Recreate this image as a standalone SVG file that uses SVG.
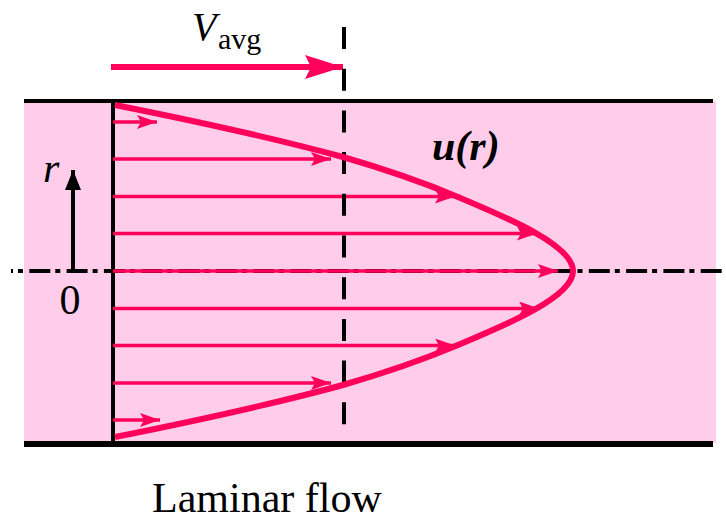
<svg xmlns="http://www.w3.org/2000/svg" width="726" height="520" viewBox="0 0 726 520">
<style>
.wall{stroke:#000;fill:none}
.vel{stroke:#FF005A;stroke-width:3.5;fill:none}
.prof{stroke:#FF005A;stroke-width:6;fill:none;stroke-linejoin:round}
.t{font-family:"Liberation Serif","DejaVu Serif",serif;fill:#000}
.it{font-style:italic}
</style>
<defs>
<marker id="ah" markerUnits="userSpaceOnUse" markerWidth="22" markerHeight="16" refX="20" refY="7" orient="auto">
<path d="M0,0 L20,7 L0,14 L4,7 z" fill="#FF005A"/>
</marker>
<marker id="ahBig" markerUnits="userSpaceOnUse" markerWidth="40" markerHeight="26" refX="38" refY="12" orient="auto">
<path d="M0,0 L38,12 L0,24 L6,12 z" fill="#FF005A"/>
</marker>
<marker id="ahK" markerUnits="userSpaceOnUse" markerWidth="18" markerHeight="22" refX="20" refY="8" orient="auto">
<path d="M0,0 L20,8 L0,16 z" fill="#000"/>
</marker>
</defs>
<rect id="background" x="0" y="0" width="726" height="520" fill="#fff"/>
<g id="pipe">
<rect x="24" y="101" width="692" height="342" fill="#FFCDEA"/>
<line class="wall" x1="24" y1="101" x2="713" y2="101" stroke-width="4"/>
<line class="wall" x1="24" y1="444" x2="713" y2="444" stroke-width="6" stroke="#1f0a14"/>
<line class="wall" x1="113" y1="100" x2="113" y2="442" stroke-width="4"/>
</g>
<g id="centerline">
<line x1="11" y1="271" x2="726" y2="271" stroke="#000" stroke-width="4" stroke-dasharray="21 5 5 6.3" stroke-dashoffset="19"/>
</g>
<g id="connectors">
<line class="vel" x1="113" y1="122" x2="157" y2="122" marker-end="url(#ah)"/>
<line class="vel" x1="113" y1="159" x2="331" y2="159" marker-end="url(#ah)"/>
<line class="vel" x1="113" y1="196.5" x2="455" y2="196.5" marker-end="url(#ah)"/>
<line class="vel" x1="113" y1="233.5" x2="537" y2="233.5" marker-end="url(#ah)"/>
<line class="vel" x1="113" y1="271" x2="558" y2="271" marker-end="url(#ah)"/>
<line class="vel" x1="113" y1="308.5" x2="539" y2="308.5" marker-end="url(#ah)"/>
<line class="vel" x1="113" y1="345.5" x2="455" y2="345.5" marker-end="url(#ah)"/>
<line class="vel" x1="113" y1="383" x2="331" y2="383" marker-end="url(#ah)"/>
<line class="vel" x1="113" y1="420" x2="160" y2="420" marker-end="url(#ah)"/>
<line x1="111" y1="67" x2="343" y2="67" stroke="#FF005A" stroke-width="6" marker-end="url(#ahBig)"/>
<line x1="73" y1="271" x2="73" y2="170" stroke="#000" stroke-width="4" marker-end="url(#ahK)"/>
</g>
<g id="avg-line">
<line x1="344" y1="27" x2="344" y2="426" stroke="#000" stroke-width="4" stroke-dasharray="22 19.7"/>
</g>
<g id="profile">
<path class="prof" d="M115,105 C190,120 270,137 343,157 C381,168 420,181 458,197 C508,218 573,245 573,271 C573,297 508,324 458,345 C420,361 381,374 343,385 C270,405 190,422 115,437"/>
</g>
<g id="labels">
<text class="t it" x="192" y="40" font-size="40">V</text>
<text class="t" x="218" y="49" font-size="30">avg</text>
<text class="t it" x="432" y="160" font-size="42" font-weight="bold">u(r)</text>
<text class="t it" x="43" y="182" font-size="42">r</text>
<text class="t" x="70" y="314" font-size="42" text-anchor="middle">0</text>
<text class="t" x="152" y="512" font-size="42">Laminar flow</text>
</g>
</svg>
